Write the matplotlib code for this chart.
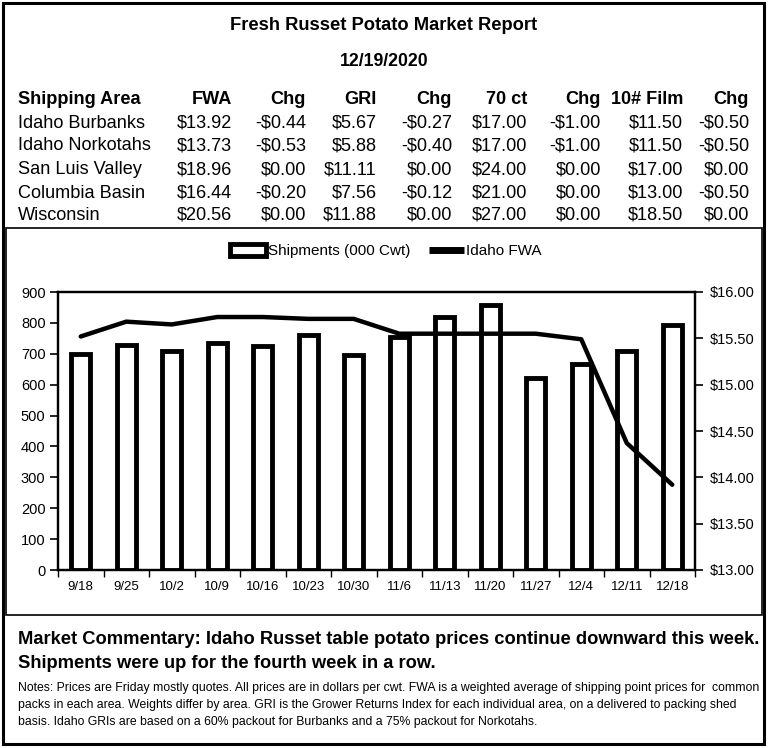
import matplotlib
matplotlib.use("Agg")
import matplotlib.pyplot as plt
from matplotlib.patches import Rectangle, Patch
from matplotlib.lines import Line2D

plt.rcParams['font.family'] = ['Liberation Sans', 'DejaVu Sans']

W, H = 768, 748

weeks = ["9/18", "9/25", "10/2", "10/9", "10/16", "10/23", "10/30",
         "11/6", "11/13", "11/20", "11/27", "12/4", "12/11", "12/18"]
shipments = [700, 730, 710, 735, 725, 760, 695, 755, 820, 858, 620, 668, 710, 792]
idaho_fwa = [15.52, 15.68, 15.65, 15.73, 15.73, 15.71, 15.71,
             15.55, 15.55, 15.55, 15.55, 15.49, 14.37, 13.92]

left_ticks = [0, 100, 200, 300, 400, 500, 600, 700, 800, 900]
right_ticks = [13.00, 13.50, 14.00, 14.50, 15.00, 15.50, 16.00]

header = ["Shipping Area", "FWA", "Chg", "GRI", "Chg", "70 ct", "Chg", "10# Film", "Chg"]
areas = ["Idaho Burbanks", "Idaho Norkotahs", "San Luis Valley", "Columbia Basin", "Wisconsin"]
table_rows = [
    ["$13.92", "-$0.44", "$5.67", "-$0.27", "$17.00", "-$1.00", "$11.50", "-$0.50"],
    ["$13.73", "-$0.53", "$5.88", "-$0.40", "$17.00", "-$1.00", "$11.50", "-$0.50"],
    ["$18.96", "$0.00", "$11.11", "$0.00", "$24.00", "$0.00", "$17.00", "$0.00"],
    ["$16.44", "-$0.20", "$7.56", "-$0.12", "$21.00", "$0.00", "$13.00", "-$0.50"],
    ["$20.56", "$0.00", "$11.88", "$0.00", "$27.00", "$0.00", "$18.50", "$0.00"],
]

title = "Fresh Russet Potato Market Report"
date = "12/19/2020"
commentary = ["Market Commentary: Idaho Russet table potato prices continue downward this week.",
              "Shipments were up for the fourth week in a row."]
notes = ["Notes: Prices are Friday mostly quotes. All prices are in dollars per cwt. FWA is a weighted average of shipping point prices for  common",
         "packs in each area. Weights differ by area. GRI is the Grower Returns Index for each individual area, on a delivered to packing shed",
         "basis. Idaho GRIs are based on a 60% packout for Burbanks and a 75% packout for Norkotahs."]

fig = plt.figure(figsize=(W / 100, H / 100), dpi=100)


def fx(px):
    return px / W


def fy(py):
    return 1 - py / H


# Borders
fig.add_artist(Rectangle((fx(3), fy(744)), fx(761), (741) / H, transform=fig.transFigure,
                         fill=False, edgecolor='black', linewidth=2.2))
fig.add_artist(Rectangle((fx(6), fy(615)), fx(756), (387) / H, transform=fig.transFigure,
                         fill=False, edgecolor='black', linewidth=1.2))

# Title
fig.text(fx(384), fy(25), title, ha='center', va='center', fontsize=13.2, fontweight='bold')
fig.text(fx(384), fy(62), date, ha='center', va='center', fontsize=12.7, fontweight='bold')

# Table
col_right = [232, 306, 377, 452, 527, 601, 683, 749]
row_y = [100, 123, 146, 170, 193, 215]
fs_tab = 13.1
fig.text(fx(18), fy(row_y[0]), header[0], ha='left', va='center', fontsize=fs_tab, fontweight='bold')
for x, h in zip(col_right, header[1:]):
    fig.text(fx(x), fy(row_y[0]), h, ha='right', va='center', fontsize=fs_tab, fontweight='bold')
for y, area, row in zip(row_y[1:], areas, table_rows):
    fig.text(fx(18), fy(y), area, ha='left', va='center', fontsize=fs_tab)
    for x, v in zip(col_right, row):
        fig.text(fx(x), fy(y), v, ha='right', va='center', fontsize=fs_tab)

# Chart
x0, x1, y0, y1 = 58, 695, 292, 570
ax = fig.add_axes([fx(x0), fy(y1), (x1 - x0) / W, (y1 - y0) / H])
xs = list(range(len(weeks)))
ax.bar(xs, shipments, width=0.42, facecolor='white', edgecolor='black', linewidth=3.5, zorder=2)
ax.set_xlim(-0.5, len(weeks) - 0.5)
ax.set_ylim(0, 900)
ax.set_yticks(left_ticks)
ax.set_yticklabels([str(t) for t in left_ticks], fontsize=10.5)
ax.set_xticks([i - 0.5 for i in range(len(weeks) + 1)])
ax.set_xticklabels([])
ax.set_xticks(xs, minor=True)
ax.set_xticklabels(weeks, minor=True, fontsize=9.5)
ax.tick_params(axis='x', which='major', length=5, width=1, direction='out')
ax.tick_params(axis='x', which='minor', length=0, pad=8)
ax.tick_params(axis='y', length=6, width=1.2, direction='out', pad=3)
for s in ax.spines.values():
    s.set_linewidth(1.6)

ax2 = ax.twinx()
ax2.plot(xs, idaho_fwa, color='black', linewidth=3.2, solid_capstyle='round', zorder=3)
ax2.set_ylim(13, 16)
ax2.set_yticks(right_ticks)
ax2.set_yticklabels([f"${t:.2f}" for t in right_ticks], fontsize=10.5)
ax2.tick_params(axis='y', length=6, width=1.2, direction='out', pad=5)
for s in ax2.spines.values():
    s.set_linewidth(1.6)

handles = [Patch(facecolor='white', edgecolor='black', linewidth=3.5),
           Line2D([0], [0], color='black', linewidth=5, solid_capstyle='butt')]
fig.legend(handles, ["Shipments (000 Cwt)", "Idaho FWA"], loc='center',
           bbox_to_anchor=(fx(386), fy(251)), ncol=2, frameon=False, fontsize=11,
           handlelength=2.3, handleheight=0.8, handletextpad=0.15, columnspacing=1.2)

# Commentary
fs_com = 13.2
fig.text(fx(18), fy(640), commentary[0], ha='left', va='center', fontsize=fs_com, fontweight='bold')
fig.text(fx(18), fy(663), commentary[1], ha='left', va='center', fontsize=fs_com, fontweight='bold')
for i, line in enumerate(notes):
    fig.text(fx(18), fy(688 + 17 * i), line, ha='left', va='center', fontsize=8.8)

fig.savefig("out.png", dpi=100)
